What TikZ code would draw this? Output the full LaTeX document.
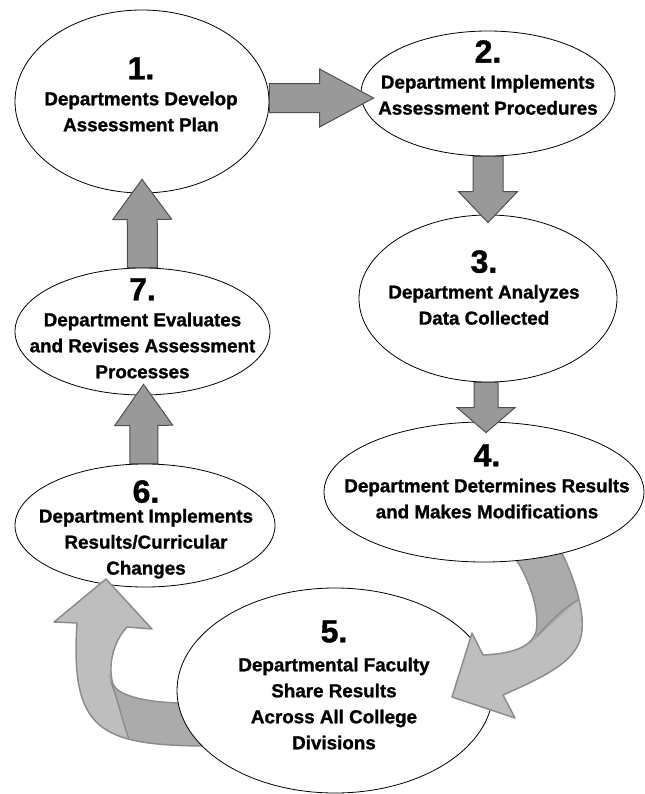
\documentclass[tikz,border=0pt]{standalone}
\usepackage{fontspec}
\setmainfont{Liberation Sans}[BoldFeatures={FakeBold=1.2}]
\usepackage{tikz}
\usetikzlibrary{calc, shapes.geometric}
\definecolor{arrowgray}{HTML}{999999}
\definecolor{arrowline}{HTML}{505050}
\definecolor{bendlight}{HTML}{BEBEBE}
\definecolor{benddark}{HTML}{ABABAB}
\definecolor{bendline}{HTML}{8C8C8C}
\tikzset{stage/.style = {ellipse, draw=black, fill=white, line width=0.6pt, inner sep=0pt}}
\tikzset{stagetext/.style = {align=center, inner sep=0pt, anchor=north, font=\bfseries\fontsize{14.1pt}{19.5pt}\selectfont}}
\tikzset{bendedge/.style = {draw=bendline, line width=1.1pt, line join=round}}
\tikzset{blockarrow/.style n args={3}{fill=arrowgray, draw=arrowline, line width=0.75pt,
    to path={($(\tikztostart)!#1!90:(\tikztotarget)$)
      -- ($($(\tikztotarget)!#3!(\tikztostart)$)!#1!90:(\tikztotarget)$)
      -- ($($(\tikztotarget)!#3!(\tikztostart)$)!#2!90:(\tikztotarget)$)
      -- (\tikztotarget)
      -- ($($(\tikztotarget)!#3!(\tikztostart)$)!#2!-90:(\tikztotarget)$)
      -- ($($(\tikztotarget)!#3!(\tikztostart)$)!#1!-90:(\tikztotarget)$)
      -- ($(\tikztostart)!#1!-90:(\tikztotarget)$) -- cycle}}}
\newcommand{\stagenum}[1]{{\fontsize{24pt}{19.5pt}\selectfont #1}}

\begin{document}
\begin{tikzpicture}[x=0.75pt, y=-0.75pt]
        \useasboundingbox (0,0) rectangle (644,794);

        \node [stage, minimum width=195pt, minimum height=92.25pt] (s6) at (145,525.5) {};
        \node [stagetext] (t6) at (146,480) {\stagenum{6.}\\[-4.5pt] Department Implements\\ Results/Curricular\\ Changes};

        \path [save path=\bendA] (215,747) -- (203,746) .. controls (100,745) and (70,730) .. (77,623)
            -- (54,622) -- (106,579) -- (152,629) -- (127,627)
            .. controls (112,643) and (108,668) .. (113,684) .. controls (117,694) and (140,702) .. (180,703)
            -- (212,704) -- cycle;
        \fill [bendlight, use path=\bendA];
        \begin{scope}
            \clip [use path=\bendA];
            \fill [benddark] (108,675) -- (132,745) -- (230,760) -- (230,690) -- cycle;
        \end{scope}
        \draw [bendedge] (111,682) .. controls (118,700) and (122,720) .. (129,739);
        \draw [bendedge, use path=\bendA];

        \node [stage, minimum width=237pt, minimum height=153.75pt] (s5) at (335,690.5) {};
        \node [stagetext] (t5) at (334,620) {\stagenum{5.}\\[2.25pt] Departmental Faculty\\ Share Results\\ Across All College\\ Divisions};

        \path [save path=\bendB] (508,545) -- (556,538) -- (562,553) .. controls (575,580) and (584,610) .. (582,630)
            .. controls (580,660) and (548,675) .. (503,695)
            -- (515,718) -- (452,697) -- (472,633) -- (483,655)
            .. controls (505,654) and (530,650) .. (536,632) .. controls (540,612) and (530,580) .. (515,558)
            -- cycle;
        \fill [bendlight, use path=\bendB];
        \begin{scope}
            \clip [use path=\bendB];
            \fill [benddark] (530,644) -- (585,594) -- (620,560) -- (620,520) -- (500,520) -- cycle;
        \end{scope}
        \draw [bendedge] (537,636) .. controls (550,622) and (563,608) .. (578,600);
        \draw [bendedge, use path=\bendB];

        \node [stage, minimum width=240pt, minimum height=105pt] (s4) at (484,492) {};
        \node [stagetext] (t4) at (487,444) {\stagenum{4.}\\ Department Determines Results\\ and Makes Modifications};

        \node [stage, minimum width=190.5pt, minimum height=137.25pt] (s1) at (142,101.5) {};
        \node [stagetext] (t1) at (141,57) {\stagenum{1.}\\ Departments Develop\\ Assessment Plan};

        \node [stage, minimum width=190.5pt, minimum height=93.75pt] (s2) at (488,93.5) {};
        \node [stagetext] (t2) at (488,40) {\stagenum{2.}\\ Department Implements\\ Assessment Procedures};

        \node [stage, minimum width=193.5pt, minimum height=125.25pt] (s3) at (488,298.5) {};
        \node [stagetext] (t3) at (484,250) {\stagenum{3.}\\ Department Analyzes\\ Data Collected};

        \node [stage, minimum width=191.25pt, minimum height=95.25pt] (s7) at (142.5,331.5) {};
        \node [stagetext] (t7) at (142.5,278) {\stagenum{7.}\\ Department Evaluates\\ and Revises Assessment\\ Processes};

        \draw [blockarrow={10.9pt}{21.75pt}{40.5pt}] ([yshift=2.6pt]s1.east) to ([xshift=9.75pt, yshift=-3.4pt]s2.west);
        \draw [blockarrow={11.25pt}{22.1pt}{23.25pt}] (s2.south) to ([yshift=-6pt]s3.north);
        \draw [blockarrow={9pt}{21.75pt}{18.75pt}] ([xshift=-1.5pt]s3.south) to ([xshift=1.5pt, yshift=-8.25pt]s4.north);
        \draw [blockarrow={10.5pt}{21.75pt}{30.75pt}] ([xshift=-0.75pt]s6.north) to ([xshift=0.75pt, yshift=8.25pt]s7.south);
        \draw [blockarrow={11.25pt}{22.1pt}{30pt}] (s7.north) to ([yshift=10.5pt]s1.south);
\end{tikzpicture}
\end{document}
